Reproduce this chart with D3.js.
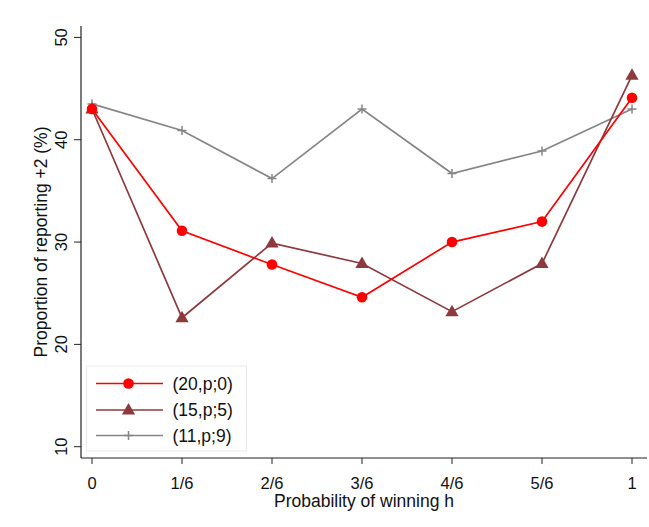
<!DOCTYPE html>
<html>
<head>
<meta charset="utf-8">
<script src="https://cdn.jsdelivr.net/npm/d3@7"></script>
<style>
  body { margin: 0; background: #fff; }
  text { font-family: "Liberation Sans", Arial, Helvetica, sans-serif; fill: #111; }
</style>
</head>
<body>
<div id="chart"></div>
<script>
// x categories (probability of winning h) and their labels
var hValues = [0, 1/6, 2/6, 3/6, 4/6, 5/6, 1];
var hLabels = ["0", "1/6", "2/6", "3/6", "4/6", "5/6", "1"];

// proportion reporting +2 (%) per treatment
var series20p0 = [43.0, 31.1, 27.8, 24.6, 30.0, 32.0, 44.1];
var series15p5 = [43.0, 22.6, 29.9, 27.9, 23.2, 27.9, 46.3];
var series11p9 = [43.5, 40.9, 36.2, 43.0, 36.7, 38.9, 43.0];

var seriesNames = ["(20,p;0)", "(15,p;5)", "(11,p;9)"];
var yTicks = [10, 20, 30, 40, 50];

var width = 649, height = 527;
var plot = {left: 81, right: 647, top: 26, bottom: 458};

var svg = d3.select("#chart").append("svg")
    .attr("width", width)
    .attr("height", height);

// scales
var xScale = d3.scaleLinear().domain([0, 1]).range([92, 632]);
var yScale = d3.scaleLinear().domain([10, 50]).range([446.7, 37.4]);

// axes
var xAxis = svg.append("g")
    .attr("transform", "translate(0," + plot.bottom + ")");
xAxis.append("line")
    .attr("x1", plot.left).attr("x2", plot.right)
    .attr("stroke", "#222").attr("stroke-width", 1.2);
xAxis.selectAll(".xtick").data(hValues).enter().append("line")
    .attr("x1", function (d) { return xScale(d); })
    .attr("x2", function (d) { return xScale(d); })
    .attr("y1", 0).attr("y2", 6)
    .attr("stroke", "#222").attr("stroke-width", 1);
xAxis.selectAll(".xlab").data(hValues).enter().append("text")
    .attr("x", function (d) { return xScale(d); })
    .attr("y", 31)
    .attr("text-anchor", "middle")
    .style("font-size", "16.5px")
    .text(function (d, i) { return hLabels[i]; });

var yAxis = svg.append("g")
    .attr("transform", "translate(" + plot.left + ",0)");
yAxis.append("line")
    .attr("y1", plot.top).attr("y2", plot.bottom)
    .attr("stroke", "#222").attr("stroke-width", 1.2);
yAxis.selectAll(".ytick").data(yTicks).enter().append("line")
    .attr("y1", function (d) { return yScale(d); })
    .attr("y2", function (d) { return yScale(d); })
    .attr("x1", 0).attr("x2", -7)
    .attr("stroke", "#222").attr("stroke-width", 1);
yAxis.selectAll(".ylab").data(yTicks).enter().append("text")
    .attr("transform", function (d) { return "translate(-14," + yScale(d) + ") rotate(-90)"; })
    .attr("text-anchor", "middle")
    .style("font-size", "16.5px")
    .text(function (d) { return d; });

// axis titles
svg.append("text")
    .attr("x", (plot.left + plot.right) / 2)
    .attr("y", 507)
    .attr("text-anchor", "middle")
    .style("font-size", "17.5px")
    .text("Probability of winning h");

svg.append("text")
    .attr("transform", "translate(47," + ((plot.top + plot.bottom) / 2) + ") rotate(-90)")
    .attr("text-anchor", "middle")
    .style("font-size", "17.5px")
    .text("Proportion of reporting +2 (%)");

var series = [
    {name: seriesNames[0], values: series20p0, color: "#ff0000", marker: "circle"},
    {name: seriesNames[1], values: series15p5, color: "#8c3a3e", marker: "triangle"},
    {name: seriesNames[2], values: series11p9, color: "#858585", marker: "plus"}
];

var line = d3.line()
    .x(function (d, i) { return xScale(hValues[i]); })
    .y(function (d) { return yScale(d); });

function drawMarker(g, type, color) {
    if (type === "circle") {
        g.append("circle").attr("r", 5.3).attr("fill", color);
    } else if (type === "triangle") {
        g.append("path")
            .attr("d", "M0,-7 L6.6,4.5 L-6.6,4.5 Z")
            .attr("fill", color);
    } else {
        g.append("path")
            .attr("d", "M-4.5,0 L4.5,0 M0,-4.5 L0,4.5")
            .attr("stroke", color).attr("stroke-width", 1.5);
    }
}

// draw in reverse so red is on top
series.slice().reverse().forEach(function (s) {
    svg.append("path")
        .datum(s.values)
        .attr("d", line)
        .attr("fill", "none")
        .attr("stroke", s.color)
        .attr("stroke-width", 1.7);
    s.values.forEach(function (v, i) {
        var g = svg.append("g")
            .attr("transform", "translate(" + xScale(hValues[i]) + "," + yScale(v) + ")");
        drawMarker(g, s.marker, s.color);
    });
});

// legend
var legend = svg.append("g");
legend.append("rect")
    .attr("x", 86.5).attr("y", 366)
    .attr("width", 160).attr("height", 85)
    .attr("fill", "#fff")
    .attr("stroke", "#e4ecec").attr("stroke-width", 1);
var rowY = [383.5, 410, 435.5];
series.forEach(function (s, i) {
    legend.append("line")
        .attr("x1", 96).attr("x2", 163)
        .attr("y1", rowY[i]).attr("y2", rowY[i])
        .attr("stroke", s.color).attr("stroke-width", 1.7);
    var g = legend.append("g").attr("transform", "translate(128.5," + rowY[i] + ")");
    drawMarker(g, s.marker, s.color);
    legend.append("text")
        .attr("x", 172.5)
        .attr("y", rowY[i] + 6)
        .style("font-size", "17.5px")
        .text(s.name);
});
</script>
</body>
</html>
